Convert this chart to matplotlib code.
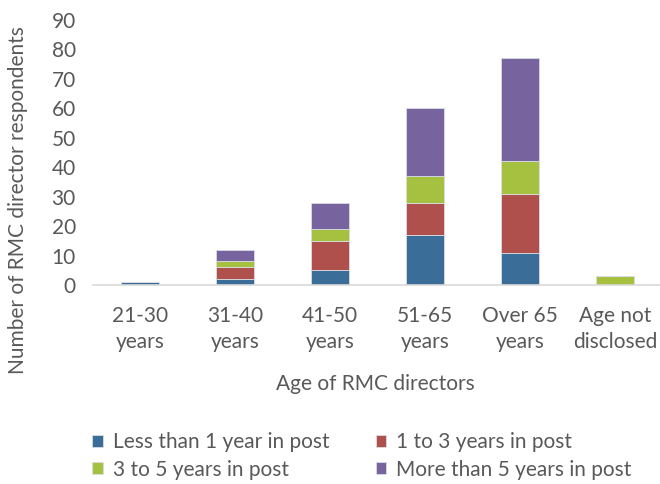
import matplotlib.pyplot as plt
import numpy as np

plt.rcParams['font.family'] = ['Lato', 'DejaVu Sans']

ages = ['21-30\nyears', '31-40\nyears', '41-50\nyears', '51-65\nyears',
        'Over 65\nyears', 'Age not\ndisclosed']
less_1 = [1, 2, 5, 17, 11, 0]
one_3 = [0, 4, 10, 11, 20, 0]
three_5 = [0, 2, 4, 9, 11, 3]
over_5 = [0, 4, 9, 23, 35, 0]

series = [('Less than 1 year in post', less_1, '#3A6E98'),
          ('1 to 3 years in post', one_3, '#B0504D'),
          ('3 to 5 years in post', three_5, '#A6C03F'),
          ('More than 5 years in post', over_5, '#77639E')]

txt = '#595959'
fig = plt.figure(figsize=(6.6, 4.84), dpi=100)
ax = fig.add_axes([0.1402, 0.4112, 0.8636, 0.5475])

x = np.arange(len(ages))
bottom = np.zeros(len(ages))
handles = []
for name, vals, c in series:
    vals = np.array(vals)
    b = ax.bar(x, vals, 0.4, bottom=bottom, color=c, label=name,
               edgecolor='#d9dde6', linewidth=0.6)
    handles.append(b)
    bottom += vals

ax.set_xlim(-0.5, 5.5)
ax.set_ylim(0, 90)
ax.set_yticks(range(0, 91, 10))
ax.set_xticks(x)
ax.set_xticklabels(ages, fontsize=15, color=txt, linespacing=1.4)
ax.tick_params(axis='y', labelsize=15, labelcolor=txt, length=0, pad=12)
ax.tick_params(axis='x', length=0, pad=15)
for s in ['top', 'right', 'left']:
    ax.spines[s].set_visible(False)
ax.spines['bottom'].set_color('#d9d9d9')
ax.spines['bottom'].set_linewidth(1.2)

fig.text(375 / 660, 1 - 384 / 484, 'Age of RMC directors', ha='center', va='center',
         fontsize=15, color=txt)
fig.text(18 / 660, 1 - 200 / 484, 'Number of RMC director respondents', ha='center',
         va='center', rotation=90, fontsize=15, color=txt)

# legend is filled row by row in the reference
order = [handles[0], handles[2], handles[1], handles[3]]
fig.legend(handles=order, loc='center', bbox_to_anchor=(362 / 660, 1 - 456 / 484),
           ncol=2, frameon=False, fontsize=15, labelcolor=txt, handlelength=0.5,
           handleheight=0.5, handletextpad=0.5, columnspacing=2.2, labelspacing=0.35)

fig.savefig('out.png', dpi=100)
